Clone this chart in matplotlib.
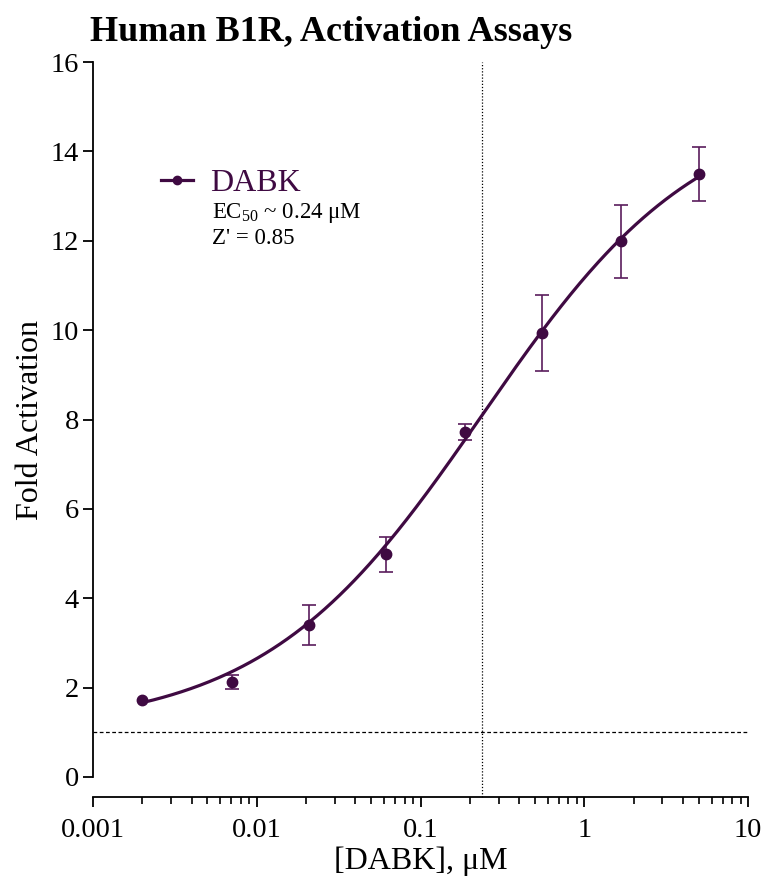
import numpy as np
import matplotlib
matplotlib.use("Agg")
import matplotlib.pyplot as plt
from matplotlib.lines import Line2D
from matplotlib.ticker import FixedLocator, LogLocator, NullFormatter


# DABK dose response; first point has no visible error bar
conc_um = [0.002, 0.00706, 0.0208, 0.0615, 0.187, 0.552, 1.68, 5.02]
fold_act = [1.72, 2.13, 3.40, 4.98, 7.72, 9.93, 11.99, 13.49]
fold_err = [np.nan, 0.16, 0.44, 0.39, 0.17, 0.85, 0.82, 0.61]

# 4PL fit parameters
fit_bottom = 1.06
fit_top = 15.14
fit_ec50 = 0.238
fit_hill = 0.65

x_ticks = [0.001, 0.01, 0.1, 1, 10]
x_tick_labels = ["0.001", "0.01", "0.1", "1", "10"]
y_ticks = [0, 2, 4, 6, 8, 10, 12, 14, 16]

PURPLE = "#3f0a42"
ERR_PURPLE = "#5a1d5c"

plt.rcParams["font.family"] = ["Liberation Serif", "DejaVu Serif"]
plt.rcParams["mathtext.fontset"] = "custom"
plt.rcParams["mathtext.rm"] = "Liberation Serif"


def four_pl(x):
    x = np.asarray(x, dtype=float)
    return fit_bottom + (fit_top - fit_bottom) / (1 + (fit_ec50 / x) ** fit_hill)


W, H = 763, 882
fig = plt.figure(figsize=(W / 100, H / 100), dpi=100)
ax = fig.add_axes([93 / W, 1 - 777 / H, (748 - 93) / W, (777 - 62) / H])

ax.set_xscale("log")
ax.set_xlim(0.001, 10)
ax.set_ylim(0, 16)

# fitted curve
xs = np.logspace(np.log10(conc_um[0]), np.log10(conc_um[-1]), 300)
ax.plot(xs, four_pl(xs), color=PURPLE, lw=2.3, zorder=3)

# points with error bars
ax.errorbar(conc_um, fold_act, yerr=fold_err, fmt="none", ecolor=ERR_PURPLE,
            elinewidth=1.2, capsize=5, capthick=1.2, zorder=2)
ax.plot(conc_um, fold_act, "o", color=PURPLE, ms=7.5, zorder=4)

# reference lines
ax.axhline(1, color="black", lw=0.9, ls=(0, (3, 2)), zorder=1)
ax.axvline(fit_ec50, ymin=-20 / 715, ymax=1, color="black", lw=0.9,
           ls=(0, (1, 1.5)), clip_on=False, zorder=1)

# spines / ticks (x axis sits 20 px below y=0)
ax.spines["top"].set_visible(False)
ax.spines["right"].set_visible(False)
ax.spines["bottom"].set_position(("outward", 20 * 72 / 100))
for s in ("left", "bottom"):
    ax.spines[s].set_linewidth(1.3)

ax.xaxis.set_major_locator(FixedLocator(x_ticks))
ax.set_xticklabels(x_tick_labels)
ax.xaxis.set_minor_locator(LogLocator(base=10, subs=np.arange(2, 10)))
ax.xaxis.set_minor_formatter(NullFormatter())
ax.set_yticks(y_ticks)

ax.tick_params(axis="both", which="major", direction="out", length=7, width=1.3,
               labelsize=20.5, color="black")
ax.tick_params(axis="x", which="major", pad=8)
ax.tick_params(axis="y", which="major", pad=3)
ax.tick_params(axis="x", which="minor", direction="out", length=5, width=1.2)

ax.set_xlabel("[DABK], μM", fontsize=23, labelpad=3)
ax.set_ylabel("Fold Activation", fontsize=23, labelpad=4)

# legend and annotations
handle = Line2D([], [], color=PURPLE, lw=2.3, marker="o", ms=6)
leg = ax.legend([handle], ["DABK"], loc="center left",
                bbox_to_anchor=((161 - 93) / 655, (777 - 183) / 715),
                frameon=False, fontsize=23, handlelength=1.0, handletextpad=0.55,
                borderpad=0, borderaxespad=0)
for t in leg.get_texts():
    t.set_color(PURPLE)

ax.text((212 - 93) / 655, (777 - 218) / 715, r"EC$_{\mathrm{50}}$ ~ 0.24 μM",
        transform=ax.transAxes, fontsize=16.5, va="baseline", ha="left")
ax.text((212 - 93) / 655, (777 - 244) / 715, "Z' = 0.85",
        transform=ax.transAxes, fontsize=16.5, va="baseline", ha="left")

fig.text(90 / W, 1 - 41 / H, "Human B1R, Activation Assays", fontsize=26,
         fontweight="bold", ha="left", va="baseline")

fig.savefig("out.png", dpi=100)
